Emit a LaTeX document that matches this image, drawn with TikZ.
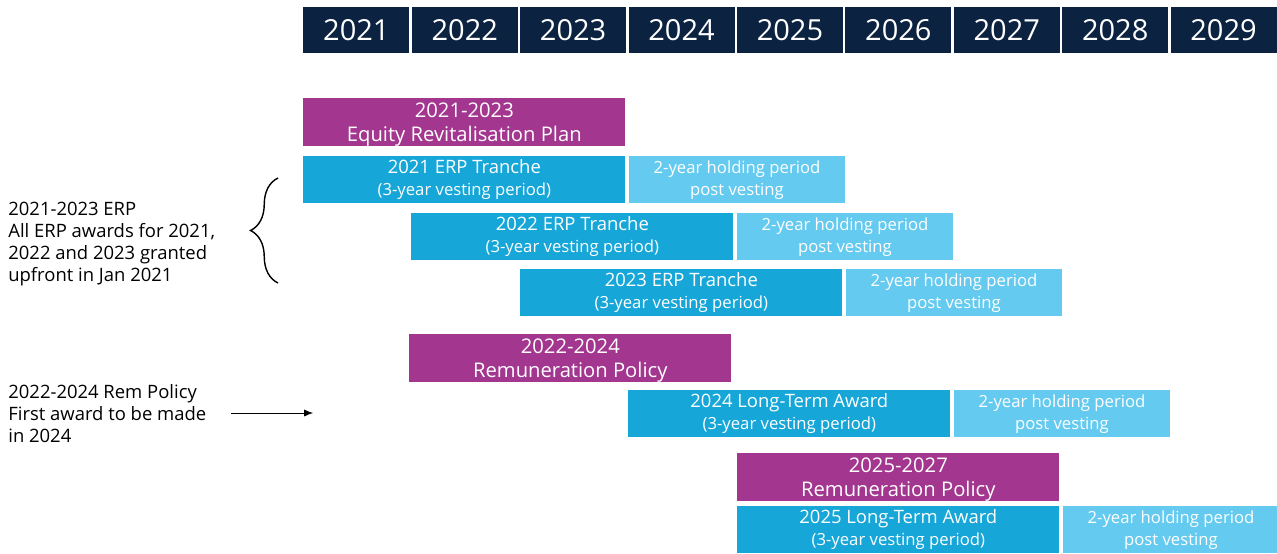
\documentclass[tikz,border=0pt]{standalone}
\usepackage{fontspec}
\setmainfont{Open Sans}
\usetikzlibrary{positioning,arrows.meta,decorations.pathreplacing}
\definecolor{yearnavy}{RGB}{11,34,64}
\definecolor{planpurple}{RGB}{163,54,143}
\definecolor{vestblue}{RGB}{22,166,216}
\definecolor{holdblue}{RGB}{100,202,240}
\begin{document}
\begin{tikzpicture}[x=0.02cm, y=-0.02cm,
    yearbox/.style={fill=yearnavy, text=white, minimum width=2.12cm, minimum height=0.92cm,
      inner sep=0, anchor=north west, font=\fontsize{16.5}{18}\selectfont},
    bar/.style={minimum height=0.94cm, inner sep=0, anchor=north west, text=white, align=center},
    plan/.style={bar, fill=planpurple, minimum width=6.44cm, font=\fontsize{11.5}{13.6}\selectfont},
    tranche/.style={bar, fill=vestblue, minimum width=6.44cm, font=\fontsize{10.5}{12.5}\selectfont},
    holding/.style={bar, fill=holdblue, minimum width=4.32cm, font=\fontsize{9.5}{12.5}\selectfont},
    note/.style={anchor=north west, align=left, inner sep=0, font=\fontsize{10.5}{12.5}\selectfont}]
  \useasboundingbox (0,0) rectangle (1277,554);

  % year header
  \foreach \yr [count=\i from 0] in {2021,...,2029}
    \node[yearbox] (y\yr) at (303+108.4*\i, 7) {\yr};

  % 2021-2023 ERP
  \node[plan] (erp) at (303,98) {\rule{0pt}{11pt}2021-2023\\Equity Revitalisation Plan};
  \node[tranche] (t21) at (303,156) {2021 ERP Tranche\\{\fontsize{9.5}{12.5}\selectfont(3-year vesting period)}};
  \node[holding, right=0.06cm of t21] (h21) {2-year holding period\\post vesting};
  \node[tranche] (t22) at (411,213) {2022 ERP Tranche\\{\fontsize{9.5}{12.5}\selectfont(3-year vesting period)}};
  \node[holding, right=0.06cm of t22] (h22) {2-year holding period\\post vesting};
  \node[tranche] (t23) at (520,269) {2023 ERP Tranche\\{\fontsize{9.5}{12.5}\selectfont(3-year vesting period)}};
  \node[holding, right=0.06cm of t23] (h23) {2-year holding period\\post vesting};

  % 2022-2024 policy
  \node[plan] (rem22) at (409,334) {\rule{0pt}{11pt}2022-2024\\Remuneration Policy};
  \node[tranche] (lta24) at (628,390) {2024 Long-Term Award\\{\fontsize{9.5}{12.5}\selectfont(3-year vesting period)}};
  \node[holding, right=0.06cm of lta24] (h24) {2-year holding period\\post vesting};

  % 2025-2027 policy
  \node[plan] (rem25) at (737,453) {\rule{0pt}{11pt}2025-2027\\Remuneration Policy};
  \node[tranche] (lta25) at (737,506) {2025 Long-Term Award\\{\fontsize{9.5}{12.5}\selectfont(3-year vesting period)}};
  \node[holding, right=0.06cm of lta25] (h25) {2-year holding period\\post vesting};

  % side notes
  \node[note] (erpnote) at (8,202) {2021-2023 ERP\\All ERP awards for 2021,\\2022 and 2023 granted\\upfront in Jan 2021};
  \coordinate (braceB) at (278,283);
  \coordinate (braceT) at (278,178);
  \draw[thick, decorate, decoration={brace, amplitude=0.55cm}] (braceB) -- (braceT);

  \node[note] (remnote) at (8,384) {2022-2024 Rem Policy\\First award to be made\\in 2024};
  \coordinate (arrS) at (231,413);
  \coordinate (arrE) at (313,413);
  \draw[-{Latex[length=5pt,width=4pt]}] (arrS) -- (arrE);
\end{tikzpicture}
\end{document}
